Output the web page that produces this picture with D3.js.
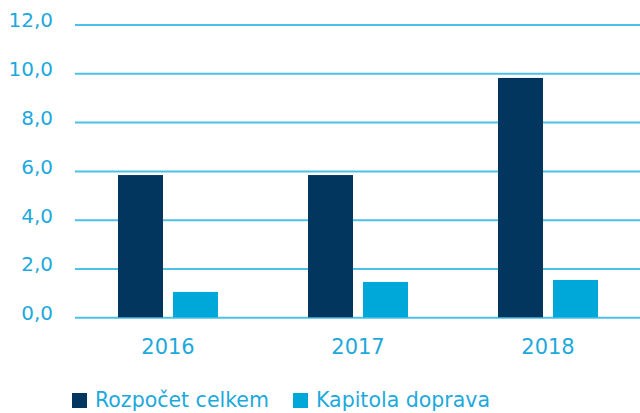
<!DOCTYPE html>
<html>
<head>
<meta charset="utf-8">
<script src="https://cdn.jsdelivr.net/npm/d3@7"></script>
<style>
  html, body { margin: 0; padding: 0; background: #fff; }
  svg { display: block; }
  text { font-family: "DejaVu Sans", sans-serif; }
</style>
</head>
<body>
<svg id="chart" width="640" height="413"></svg>
<script>
// Years on the x axis
const years = ["2016", "2017", "2018"];
// Series names (legend)
const seriesNames = ["Rozpočet celkem", "Kapitola doprava"];
// Values per series, in billions
const rozpocetCelkem = [5.83, 5.83, 9.81];
const kapitolaDoprava = [1.04, 1.45, 1.53];
// Y axis ticks
const yTicks = [0, 2, 4, 6, 8, 10, 12];

const colors = ["#02365f", "#00a8d9"];
const textColor = "#1da9dc";
const gridColor = "#4cc1e6";

const svg = d3.select("#chart");

const y = d3.scaleLinear().domain([0, 12]).range([317.3, 24.5]);

const x0 = d3.scaleBand()
  .domain(years)
  .range([73, 643])
  .paddingInner(0.4737)
  .paddingOuter(0.2368);

const x1 = d3.scaleBand()
  .domain(seriesNames)
  .range([0, x0.bandwidth()])
  .paddingInner(0.1818);

const fmt = v => d3.format(".1f")(v).replace(".", ",");

// gridlines + y labels
const yAxis = d3.axisLeft(y)
  .tickValues(yTicks)
  .tickSize(-(640 - 75))
  .tickPadding(22)
  .tickFormat(fmt);

const gy = svg.append("g")
  .attr("transform", "translate(75,0)")
  .call(yAxis);
gy.select(".domain").remove();
gy.selectAll(".tick line")
  .attr("stroke", gridColor)
  .attr("stroke-width", 2);
gy.selectAll(".tick text")
  .attr("fill", textColor)
  .attr("font-size", 20)
  .attr("dy", "0.12em");

// bars
const rows = years.map((yr, i) => ({
  year: yr,
  values: [rozpocetCelkem[i], kapitolaDoprava[i]]
}));

const groups = svg.append("g")
  .selectAll("g")
  .data(rows)
  .join("g")
  .attr("transform", d => `translate(${x0(d.year)},0)`);

groups.selectAll("rect")
  .data(d => d.values.map((v, j) => ({ name: seriesNames[j], value: v, j })))
  .join("rect")
  .attr("x", d => x1(d.name))
  .attr("width", x1.bandwidth())
  .attr("y", d => y(d.value))
  .attr("height", d => y(0) - y(d.value))
  .attr("fill", d => colors[d.j]);

// x labels
const xAxis = d3.axisBottom(x0).tickSize(0).tickPadding(0);
const gx = svg.append("g")
  .attr("transform", "translate(0,339)")
  .call(xAxis);
gx.select(".domain").remove();
gx.selectAll(".tick text")
  .attr("fill", textColor)
  .attr("font-size", 21)
  .attr("dy", "0.73em");

// legend
const legendX = [72, 293];
const legend = svg.append("g")
  .selectAll("g")
  .data(seriesNames)
  .join("g")
  .attr("transform", (d, i) => `translate(${legendX[i]},0)`);

legend.append("rect")
  .attr("x", 0)
  .attr("y", 393)
  .attr("width", 15)
  .attr("height", 15)
  .attr("fill", (d, i) => colors[i]);

legend.append("text")
  .attr("x", 23)
  .attr("y", 407)
  .attr("fill", textColor)
  .attr("font-size", 20.5)
  .text(d => d);
</script>
</body>
</html>
